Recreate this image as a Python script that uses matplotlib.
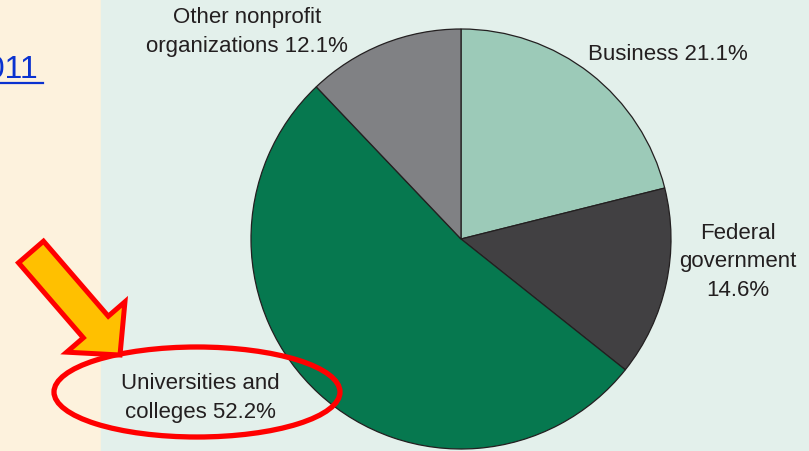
import numpy as np
import matplotlib
matplotlib.use("Agg")
import matplotlib.pyplot as plt
from matplotlib.patches import Rectangle, Ellipse, FancyArrow

# R&D performers, share of total (%)
sectors = ["Business", "Federal\ngovernment", "Universities and\ncolleges", "Other nonprofit\norganizations"]
shares = [21.1, 14.6, 52.2, 12.1]
colors = ["#9ccab8", "#414042", "#06784f", "#808184"]

W, H = 809, 452
plt.rcParams["font.family"] = ["Liberation Sans", "DejaVu Sans"]

fig = plt.figure(figsize=(W / 100, H / 100), dpi=100)
ax = fig.add_axes([0, 0, 1, 1])

# slide background: beige strip on the left, mint panel behind the chart
ax.add_patch(Rectangle((0, 0), 101, H, color="#fdf2dd", zorder=0))
ax.add_patch(Rectangle((101, 0), W - 101, H, color="#e3f0eb", zorder=0))

ax.pie(shares, colors=colors, startangle=90, counterclock=False,
       center=(461, H - 240), radius=210,
       wedgeprops=dict(edgecolor="#231f20", linewidth=0.9))

txt = dict(fontsize=16, color="#231f20", ha="center", va="center",
           linespacing=1.45, zorder=5)
ax.text(247, H - 32, f"{sectors[3]} {shares[3]:.1f}%", **txt)
ax.text(668, H - 54, f"{sectors[0]} {shares[0]:.1f}%", **txt)
ax.text(738, H - 262, f"{sectors[1]}\n{shares[1]:.1f}%", **txt)
ax.text(200, H - 398, f"{sectors[2]} {shares[2]:.1f}%", **txt)

# highlight: ellipse round the universities label and a pointing arrow
ax.add_patch(Ellipse((197, H - 393), 286, 90, fill=False,
                     edgecolor="#ff0000", linewidth=3.8, zorder=6))
ax.add_patch(FancyArrow(31, H - 253, 89, -103, width=33, head_width=77,
                        head_length=37, length_includes_head=True,
                        facecolor="#ffc000", edgecolor="#ff0000",
                        linewidth=3.6, joinstyle="miter", zorder=7))

# cut-off hyperlink text on the left
ax.text(38, H - 78, "2011", fontsize=23, color="#0a32d0", ha="right",
        va="baseline", zorder=5)
ax.plot([0, 43], [H - 84, H - 84], color="#0a32d0", linewidth=1.6, zorder=5)

ax.set_xlim(0, W)
ax.set_ylim(0, H)
ax.set_aspect("auto")
ax.axis("off")

fig.savefig("out.png", dpi=100)
